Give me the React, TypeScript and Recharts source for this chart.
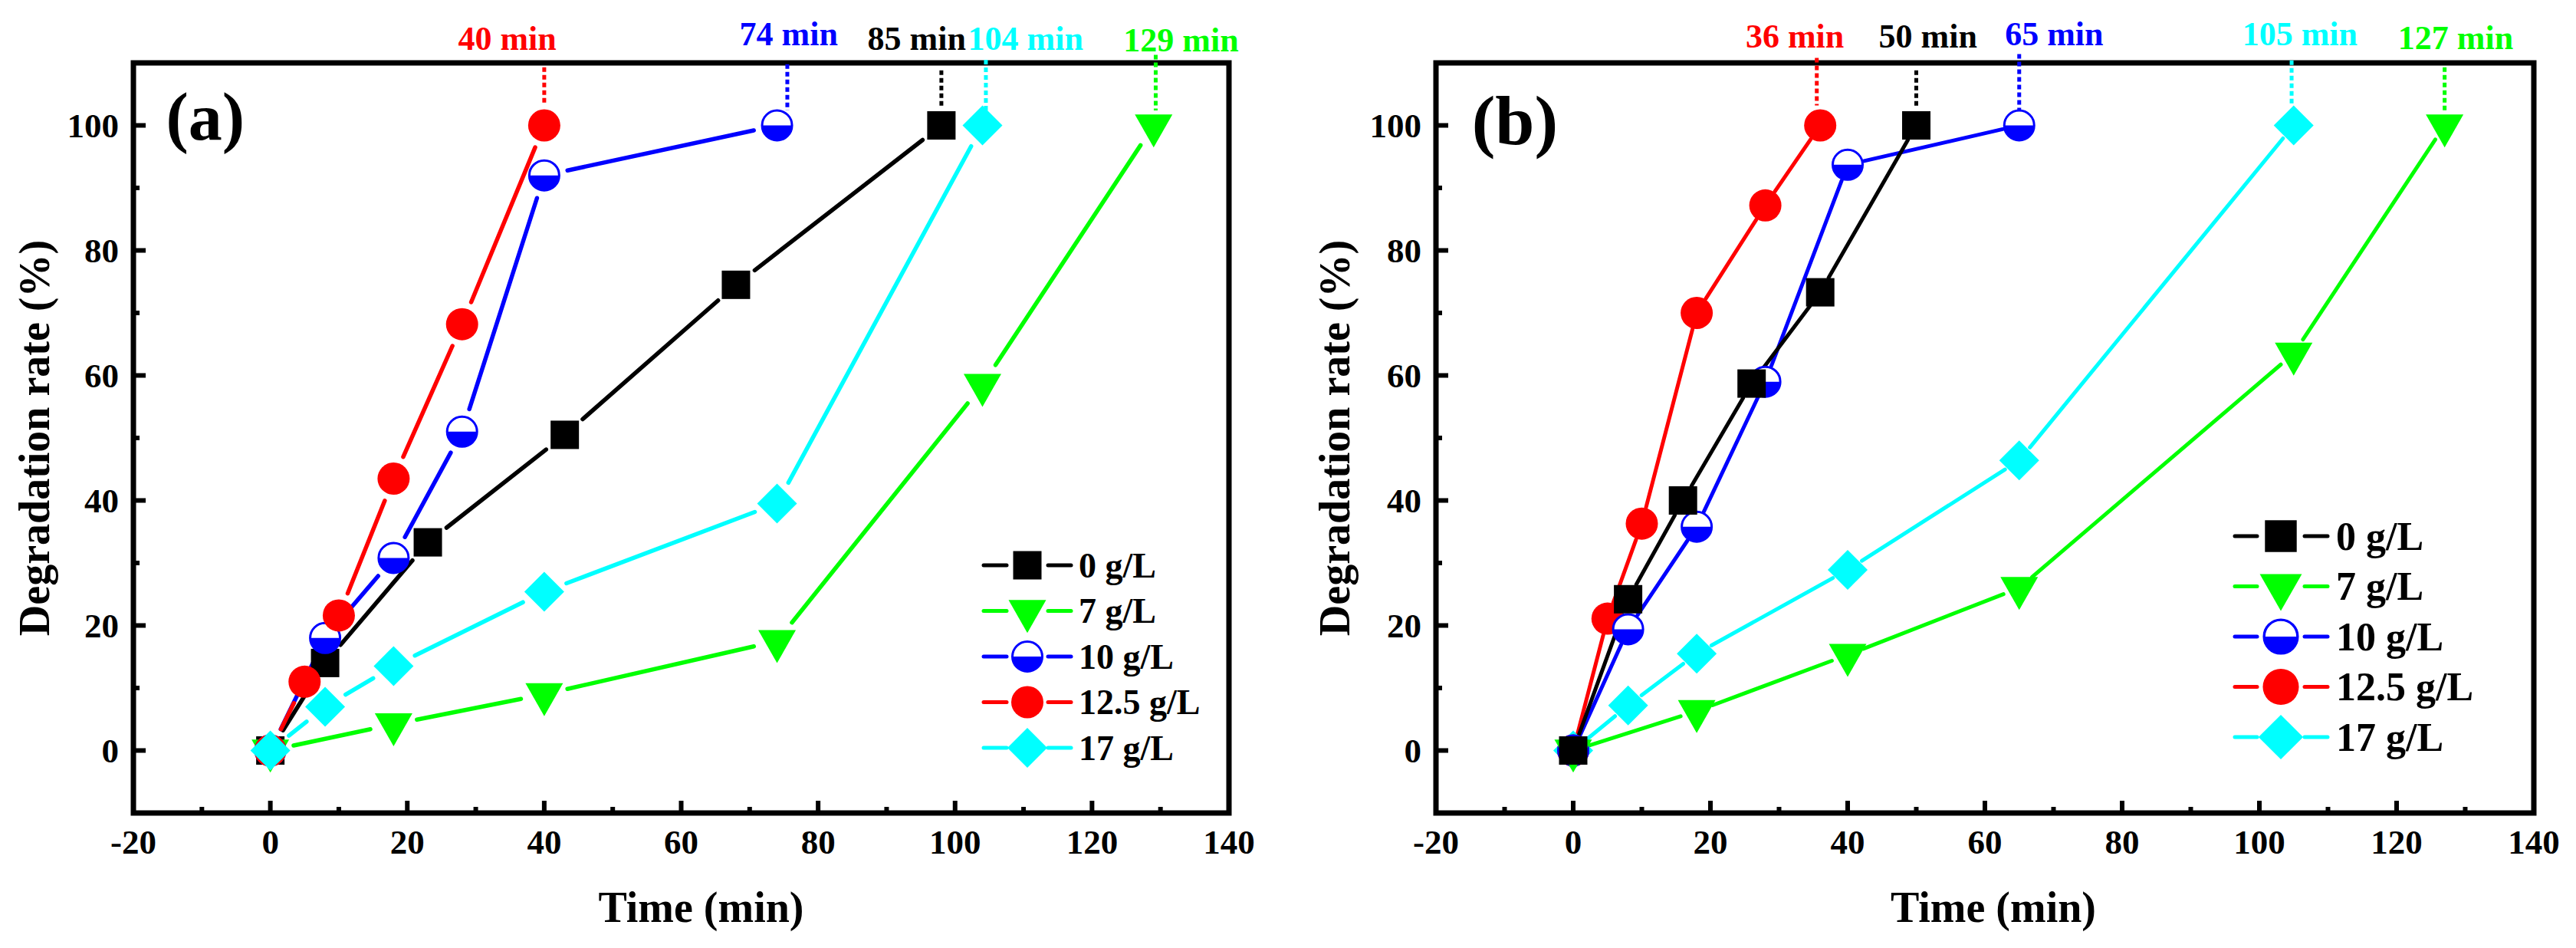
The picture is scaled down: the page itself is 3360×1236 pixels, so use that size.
import React from 'react';
import {
  LineChart,
  Line,
  XAxis,
  YAxis,
  ReferenceArea,
  ReferenceLine,
  ReferenceDot,
  Legend,
} from 'recharts';

const FONT = '"Liberation Serif", "Times New Roman", Times, serif';
const CHART_W = 1680;
const CHART_H = 1236;
const X_DOMAIN: [number, number] = [-20, 140];
const Y_DOMAIN: [number, number] = [-10, 110];

// axis ticks (majors every 20 / 20, minors in between)
const xTicks = [-20, -10, 0, 10, 20, 30, 40, 50, 60, 70, 80, 90, 100, 110, 120, 130, 140];
const yTicks = [0, 10, 20, 30, 40, 50, 60, 70, 80, 90, 100];

const seriesNames = ['0 g/L', '7 g/L', '10 g/L', '12.5 g/L', '17 g/L'];
const seriesColors = ['#000000', '#00ff00', '#0000ff', '#ff0000', '#00ffff'];
const seriesMarkers = ['square', 'triangle', 'halfCircle', 'circle', 'diamond'];

// panel (a)
const timeA0 = [0, 8, 23, 43, 68, 98];
const rateA0 = [0, 14, 33.3, 50.5, 74.5, 100];
const timeA7 = [0, 18, 40, 74, 104, 129];
const rateA7 = [0, 4.2, 9, 17.5, 58.5, 100];
const timeA10 = [0, 8, 18, 28, 40, 74];
const rateA10 = [0, 18, 30.8, 51, 92, 100];
const timeA125 = [0, 5, 10, 18, 28, 40];
const rateA125 = [0, 11, 21.6, 43.5, 68.2, 100];
const timeA17 = [0, 8, 18, 40, 74, 104];
const rateA17 = [0, 7, 13.5, 25.4, 39.5, 100];

// panel (b)
const timeB0 = [0, 8, 16, 26, 36, 50];
const rateB0 = [0, 24.2, 40, 58.7, 73.3, 100];
const timeB7 = [0, 18, 40, 65, 105, 127];
const rateB7 = [0, 6.3, 15.3, 26, 63.5, 100];
const timeB10 = [0, 8, 18, 28, 40, 65];
const rateB10 = [0, 19.4, 35.8, 59, 93.7, 100];
const timeB125 = [0, 5, 10, 18, 28, 36];
const rateB125 = [0, 21.1, 36.3, 70, 87.2, 100];
const timeB17 = [0, 8, 18, 40, 65, 105];
const rateB17 = [0, 7.2, 15.5, 28.9, 46.4, 100];

// time-to-100% callouts
const calloutTextA = ['40 min', '74 min', '85 min', '104 min', '129 min'];
const calloutTimeA = [40, 75.5, 98, 104.5, 129.3];
const calloutSeriesA = [3, 2, 0, 4, 1];
const calloutTextB = ['36 min', '50 min', '65 min', '105 min', '127 min'];
const calloutTimeB = [35.5, 50, 65, 104.7, 127];
const calloutSeriesB = [3, 0, 2, 4, 1];

type Box = { left: number; right: number; top: number; bottom: number };

function toPoints(xs: number[], ys: number[]) {
  return xs.map((x, i) => ({ x, y: ys[i] }));
}

// Origin-style gap between line and symbol: dash pattern from segment pixel lengths
function gapDash(xs: number[], ys: number[], box: Box, gap: number) {
  const w = box.right - box.left;
  const h = box.bottom - box.top;
  const px = xs.map((x) => box.left + ((x - X_DOMAIN[0]) / (X_DOMAIN[1] - X_DOMAIN[0])) * w);
  const py = ys.map((y) => box.top + ((Y_DOMAIN[1] - y) / (Y_DOMAIN[1] - Y_DOMAIN[0])) * h);
  const parts = [0];
  let carry = 0;
  for (let i = 1; i < xs.length; i++) {
    const len = Math.hypot(px[i] - px[i - 1], py[i] - py[i - 1]);
    const s = Math.min(gap, len / 2);
    parts.push(carry + s, len - 2 * s);
    carry = s;
  }
  parts.push(carry + 10000);
  return parts.map((v) => v.toFixed(2)).join(' ');
}

function Marker({ kind, color, cx, cy, s = 1 }: any) {
  if (cx == null || cy == null) return null;
  switch (kind) {
    case 'square': {
      const a = 18.5 * s;
      return <rect x={cx - a} y={cy - a} width={2 * a} height={2 * a} fill={color} />;
    }
    case 'triangle': {
      const hw = 24.5 * s;
      const ht = 43 * s;
      return (
        <polygon
          points={`${cx - hw},${cy - ht / 3} ${cx + hw},${cy - ht / 3} ${cx},${cy + (2 * ht) / 3}`}
          fill={color}
        />
      );
    }
    case 'halfCircle': {
      const r = 19.5 * s;
      return (
        <g>
          <circle cx={cx} cy={cy} r={r} fill="#ffffff" stroke={color} strokeWidth={3 * s} />
          <path d={`M${cx - r},${cy} A${r},${r} 0 0 0 ${cx + r},${cy} Z`} fill={color} />
        </g>
      );
    }
    case 'circle':
      return <circle cx={cx} cy={cy} r={21 * s} fill={color} />;
    case 'diamond': {
      const d = 26 * s;
      return (
        <polygon
          points={`${cx},${cy - d} ${cx + d},${cy} ${cx},${cy + d} ${cx - d},${cy}`}
          fill={color}
        />
      );
    }
    default:
      return null;
  }
}

function XTick(props: any) {
  const { x, y, payload } = props;
  const v = Number(payload.value);
  const major = v % 20 === 0;
  return (
    <g>
      <line x1={x} x2={x} y1={y} y2={y - (major ? 16 : 8)} stroke="#000" strokeWidth={6} />
      {major ? (
        <text
          x={x}
          y={y + 53}
          textAnchor="middle"
          fontFamily={FONT}
          fontWeight="bold"
          fontSize={45}
          fill="#000"
        >
          {String(v)}
        </text>
      ) : null}
    </g>
  );
}

function YTick(props: any) {
  const { x, y, payload } = props;
  const v = Number(payload.value);
  const major = v % 20 === 0;
  return (
    <g>
      <line x1={x} x2={x + (major ? 16 : 8)} y1={y} y2={y} stroke="#000" strokeWidth={6} />
      {major ? (
        <text
          x={x - 19}
          y={y + 15}
          textAnchor="end"
          fontFamily={FONT}
          fontWeight="bold"
          fontSize={45}
          fill="#000"
        >
          {String(v)}
        </text>
      ) : null}
    </g>
  );
}

function LegendBox({ cfg, series }: any) {
  const L = cfg.legend;
  return (
    <svg width={L.w} height={L.h} style={{ display: 'block', overflow: 'visible' }}>
      {series.map((s: any, i: number) => {
        const cy = L.y0 + i * L.dy;
        return (
          <g key={s.name}>
            <line x1={L.x1} x2={L.mx - L.gap} y1={cy} y2={cy} stroke={s.color} strokeWidth={5} strokeLinecap="round" />
            <line x1={L.mx + L.gap} x2={L.x2} y1={cy} y2={cy} stroke={s.color} strokeWidth={5} strokeLinecap="round" />
            <Marker kind={s.marker} color={s.color} cx={L.mx} cy={cy} s={L.s} />
            <text
              x={L.tx}
              y={cy}
              dy="0.34em"
              fontFamily={FONT}
              fontWeight="bold"
              fontSize={L.fs}
              fill="#000"
            >
              {s.name}
            </text>
          </g>
        );
      })}
    </svg>
  );
}

function Panel({ cfg }: any) {
  const box: Box = cfg.box;
  const series = cfg.times.map((xs: number[], i: number) => ({
    name: seriesNames[i],
    color: seriesColors[i],
    marker: seriesMarkers[i],
    xs,
    ys: cfg.rates[i],
  }));
  const plotMidX = (box.left + box.right) / 2;
  const plotMidY = (box.top + box.bottom) / 2;

  return (
    <LineChart
      width={CHART_W}
      height={CHART_H}
      margin={{ top: box.top, right: CHART_W - box.right, bottom: 0, left: 0 }}
    >
      <XAxis
        type="number"
        dataKey="x"
        domain={X_DOMAIN}
        ticks={xTicks}
        interval={0}
        height={CHART_H - box.bottom}
        tickSize={0}
        tickMargin={0}
        axisLine={false}
        tickLine={false}
        tick={(p: any) => <XTick {...p} />}
        label={() => (
          <text
            x={plotMidX + cfg.xTitleDx}
            y={box.bottom + 142}
            textAnchor="middle"
            fontFamily={FONT}
            fontWeight="bold"
            fontSize={56}
            fill="#000"
          >
            Time (min)
          </text>
        )}
      />
      <YAxis
        type="number"
        dataKey="y"
        domain={Y_DOMAIN}
        ticks={yTicks}
        interval={0}
        width={box.left}
        tickSize={0}
        tickMargin={0}
        axisLine={false}
        tickLine={false}
        tick={(p: any) => <YTick {...p} />}
        label={() => (
          <text
            x={cfg.yTitleX}
            y={plotMidY}
            transform={`rotate(-90, ${cfg.yTitleX}, ${plotMidY})`}
            textAnchor="middle"
            fontFamily={FONT}
            fontWeight="bold"
            fontSize={56}
            fill="#000"
          >
            Degradation rate (%)
          </text>
        )}
      />

      {cfg.drawOrder.map((i: number) => {
        const s = series[i];
        return (
          <Line
            key={s.name}
            name={s.name}
            data={toPoints(s.xs, s.ys)}
            dataKey="y"
            type="linear"
            stroke={s.color}
            strokeWidth={cfg.lineWidth}
            strokeLinecap="round"
            strokeDasharray={gapDash(s.xs, s.ys, box, cfg.gap)}
            dot={(p: any) => (
              <Marker key={`${s.name}-${p.index}`} kind={s.marker} color={s.color} cx={p.cx} cy={p.cy} />
            )}
            activeDot={false}
            isAnimationActive={false}
          />
        );
      })}

      <ReferenceArea
        x1={X_DOMAIN[0]}
        x2={X_DOMAIN[1]}
        y1={Y_DOMAIN[0]}
        y2={Y_DOMAIN[1]}
        fill="none"
        fillOpacity={0}
        stroke="#000"
        strokeWidth={7}
        ifOverflow="visible"
      />

      {cfg.calloutText.map((txt: string, k: number) => {
        const lay = cfg.calloutLayout[k];
        const color = seriesColors[cfg.calloutSeries[k]];
        const t = cfg.calloutTime[k];
        return (
          <ReferenceLine
            key={`cl-${txt}`}
            segment={[
              { x: t, y: lay.top },
              { x: t, y: lay.bottom },
            ]}
            stroke={color}
            strokeWidth={5}
            strokeDasharray="6 4"
            ifOverflow="visible"
          />
        );
      })}
      {cfg.calloutText.map((txt: string, k: number) => {
        const lay = cfg.calloutLayout[k];
        const color = seriesColors[cfg.calloutSeries[k]];
        return (
          <ReferenceDot
            key={`ct-${txt}`}
            x={lay.lx}
            y={lay.ly}
            r={0}
            fill="none"
            stroke="none"
            ifOverflow="visible"
            label={{
              value: txt,
              position: 'center',
              fill: color,
              fontSize: 44,
              fontWeight: 'bold',
              fontFamily: FONT,
            }}
          />
        );
      })}

      <ReferenceDot
        x={cfg.tagX}
        y={cfg.tagY}
        r={0}
        fill="none"
        stroke="none"
        ifOverflow="visible"
        label={{
          value: cfg.tag,
          position: 'center',
          fill: '#000',
          fontSize: cfg.tagSize,
          fontWeight: 'bold',
          fontFamily: FONT,
        }}
      />

      <Legend
        layout="vertical"
        align="center"
        verticalAlign="middle"
        wrapperStyle={{
          left: cfg.legend.left,
          top: cfg.legend.top,
          width: cfg.legend.w,
          height: cfg.legend.h,
        }}
        content={() => <LegendBox cfg={cfg} series={series} />}
      />
    </LineChart>
  );
}

const panelA = {
  tag: '(a)',
  tagX: -9.5,
  tagY: 101.6,
  tagSize: 88,
  box: { left: 174, right: 1603, top: 82, bottom: 1060 },
  times: [timeA0, timeA7, timeA10, timeA125, timeA17],
  rates: [rateA0, rateA7, rateA10, rateA125, rateA17],
  drawOrder: [0, 1, 2, 3, 4],
  gap: 31,
  lineWidth: 5.5,
  xTitleDx: 26,
  yTitleX: 64,
  calloutText: calloutTextA,
  calloutTime: calloutTimeA,
  calloutSeries: calloutSeriesA,
  calloutLayout: [
    { top: 109.3, bottom: 103.2, lx: 34.6, ly: 114 },
    { top: 109.8, bottom: 102.4, lx: 75.7, ly: 114.8 },
    { top: 108.8, bottom: 102.9, lx: 94.4, ly: 114 },
    { top: 110.5, bottom: 102.2, lx: 110.3, ly: 114 },
    { top: 111.3, bottom: 102.4, lx: 133, ly: 113.8 },
  ],
  legend: { left: 1270, top: 690, w: 340, h: 320, y0: 47, dy: 59.5, x1: 13, x2: 127, mx: 70, tx: 137, fs: 46, s: 1, gap: 27 },
};

const panelB = {
  tag: '(b)',
  tagX: -8.5,
  tagY: 101,
  tagSize: 92,
  box: { left: 193, right: 1625, top: 82, bottom: 1060 },
  times: [timeB0, timeB7, timeB10, timeB125, timeB17],
  rates: [rateB0, rateB7, rateB10, rateB125, rateB17],
  drawOrder: [4, 3, 2, 1, 0],
  gap: 22,
  lineWidth: 5,
  xTitleDx: 11,
  yTitleX: 80,
  calloutText: calloutTextB,
  calloutTime: calloutTimeB,
  calloutSeries: calloutSeriesB,
  calloutLayout: [
    { top: 110.8, bottom: 103.2, lx: 32.3, ly: 114.4 },
    { top: 108.8, bottom: 103, lx: 51.7, ly: 114.4 },
    { top: 111.4, bottom: 101.5, lx: 70.1, ly: 114.8 },
    { top: 110.4, bottom: 103.2, lx: 105.9, ly: 114.7 },
    { top: 109.3, bottom: 102.2, lx: 128.6, ly: 114.1 },
  ],
  legend: { left: 1220, top: 655, w: 380, h: 350, y0: 44, dy: 65.5, x1: 15, x2: 136, mx: 75, tx: 147, fs: 52, s: 1.12, gap: 31 },
};

export default function App() {
  return (
    <div
      style={{
        position: 'absolute',
        left: 0,
        top: 0,
        width: 3360,
        height: 1236,
        background: '#ffffff',
        overflow: 'hidden',
      }}
    >
      <div style={{ position: 'absolute', left: 0, top: 0 }}>
        <Panel cfg={panelA} />
      </div>
      <div style={{ position: 'absolute', left: 1680, top: 0 }}>
        <Panel cfg={panelB} />
      </div>
    </div>
  );
}
